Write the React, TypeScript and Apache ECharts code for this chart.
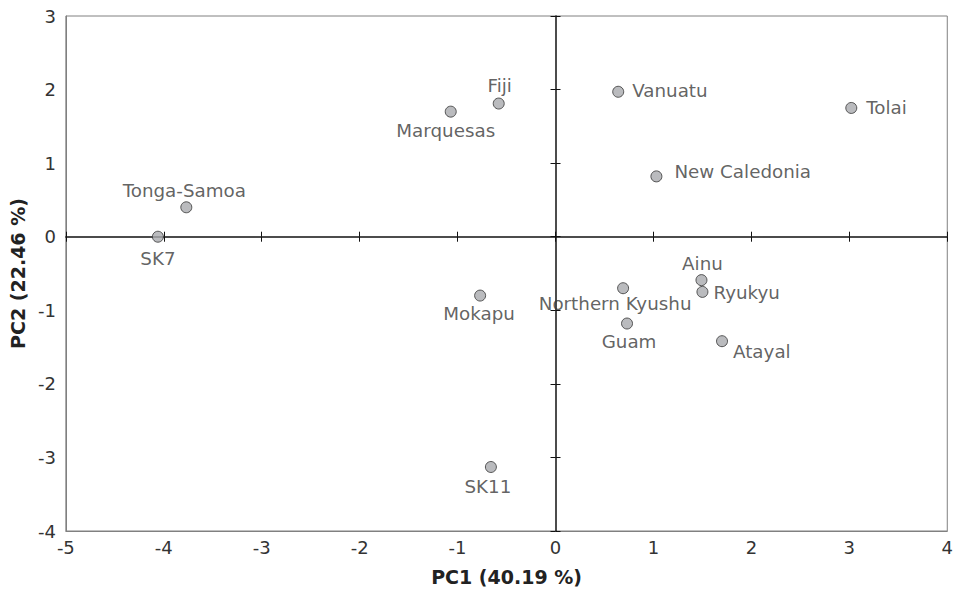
import React, { useEffect, useRef } from "react";
import * as echarts from "echarts";

const names = ["SK7", "Tonga-Samoa", "Marquesas", "Fiji", "Vanuatu", "Tolai", "New Caledonia", "Ainu", "Ryukyu", "Northern Kyushu", "Guam", "Atayal", "Mokapu", "SK11"];
const pc1 = [-4.06, -3.77, -1.07, -0.58, 0.64, 3.02, 1.03, 1.49, 1.5, 0.69, 0.73, 1.7, -0.77, -0.66];
const pc2 = [0.0, 0.4, 1.7, 1.81, 1.97, 1.75, 0.82, -0.59, -0.75, -0.7, -1.18, -1.42, -0.8, -3.13];
const xTicks = { min: -5, max: 4, interval: 1 };
const yTicks = { min: -4, max: 3, interval: 1 };

const labelPlacement: Record<string, any> = {
  "SK7": { position: "bottom", offset: [0, 2] },
  "Tonga-Samoa": { position: "top", offset: [-2, 3] },
  "Marquesas": { position: "bottom", offset: [-5, -1] },
  "Fiji": { position: "top", offset: [1, 2] },
  "Vanuatu": { position: "right", offset: [3, -1] },
  "Tolai": { position: "right", offset: [4, 0] },
  "New Caledonia": { position: "right", offset: [7, -5] },
  "Ainu": { position: "top", offset: [1, 3] },
  "Ryukyu": { position: "right", offset: [0, 1] },
  "Northern Kyushu": { position: "bottom", offset: [-8, -5] },
  "Guam": { position: "bottom", offset: [2, -2] },
  "Atayal": { position: "right", offset: [0, 10] },
  "Mokapu": { position: "bottom", offset: [-1, -2] },
  "SK11": { position: "bottom", offset: [-3, 0] },
};

const FONT = "DejaVu Sans";

export default function App() {
  const ref = useRef<HTMLDivElement>(null);
  useEffect(() => {
    const chart = echarts.init(ref.current!, null, { renderer: "svg" });
    const data = names.map((n, i) => ({
      name: n,
      value: [pc1[i], pc2[i]],
      label: { show: true, formatter: n, ...labelPlacement[n] },
    }));
    const zeroX = (inside: boolean, idx: number) => ({
      type: "value",
      ...xTicks,
      position: "bottom",
      axisLine: { show: idx === 1, onZero: true, lineStyle: { color: "#111", width: 1.5 } },
      axisTick: { show: true, inside, length: 5, lineStyle: { color: "#111", width: 1 } },
      axisLabel: { show: false },
      splitLine: { show: false },
    });
    const zeroY = (inside: boolean, idx: number) => ({
      type: "value",
      ...yTicks,
      position: "left",
      axisLine: { show: idx === 1, onZero: true, lineStyle: { color: "#111", width: 1.5 } },
      axisTick: { show: true, inside, length: 5, lineStyle: { color: "#111", width: 1 } },
      axisLabel: { show: false },
      splitLine: { show: false },
    });
    chart.setOption({
      animation: false,
      backgroundColor: "#fff",
      grid: { left: 65, right: 7, top: 16, bottom: 57, show: true, borderColor: "#808080", borderWidth: 1 },
      xAxis: [
        {
          type: "value",
          ...xTicks,
          position: "bottom",
          axisLine: { show: true, onZero: false, lineStyle: { color: "#808080" } },
          axisTick: { show: false },
          splitLine: { show: false },
          axisLabel: { color: "#333", fontFamily: FONT, fontSize: 18, margin: 7 },
          name: "PC1 (40.19 %)",
          nameLocation: "middle",
          nameGap: 36,
          nameTextStyle: { color: "#222", fontFamily: FONT, fontSize: 19, fontWeight: "bold" },
        },
        zeroX(false, 1),
        zeroX(true, 2),
      ],
      yAxis: [
        {
          type: "value",
          ...yTicks,
          position: "left",
          axisLine: { show: true, onZero: false, lineStyle: { color: "#808080" } },
          axisTick: { show: false },
          splitLine: { show: false },
          axisLabel: { color: "#333", fontFamily: FONT, fontSize: 18, margin: 10 },
          name: "PC2 (22.46 %)",
          nameLocation: "middle",
          nameGap: 38,
          nameTextStyle: { color: "#222", fontFamily: FONT, fontSize: 19, fontWeight: "bold" },
        },
        zeroY(false, 1),
        zeroY(true, 2),
      ],
      series: [
        {
          type: "scatter",
          xAxisIndex: 0,
          yAxisIndex: 0,
          symbolSize: 11,
          itemStyle: { color: "#a9aaae", borderColor: "#333", borderWidth: 1 },
          label: { color: "#3a3a3a", fontFamily: FONT, fontSize: 18.3 },
          data,
          z: 5,
        },
      ],
    });
    return () => chart.dispose();
  }, []);
  return <div ref={ref} style={{ width: 956, height: 591, position: "absolute", left: 0, top: 0 }} />;
}
